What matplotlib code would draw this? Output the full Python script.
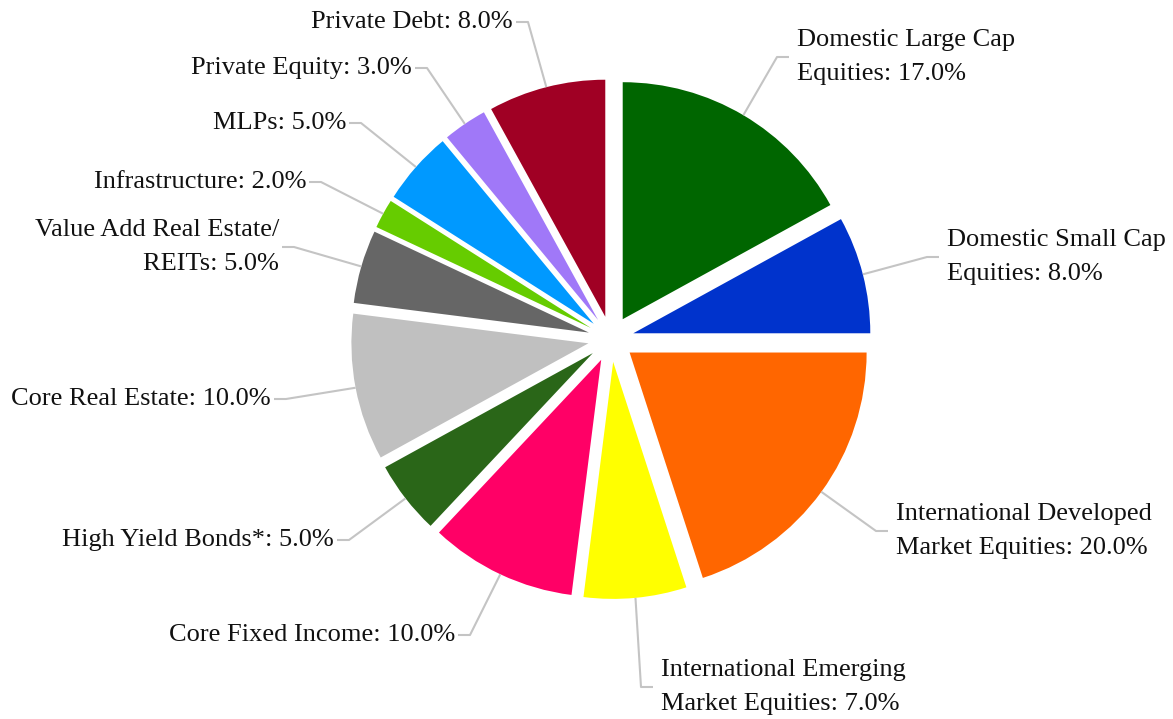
import numpy as np
import matplotlib

matplotlib.use("Agg")
import matplotlib.pyplot as plt

# Asset allocation data
labels = [
    "Domestic Large Cap\nEquities",
    "Domestic Small Cap\nEquities",
    "International Developed\nMarket Equities",
    "International Emerging\nMarket Equities",
    "Core Fixed Income",
    "High Yield Bonds*",
    "Core Real Estate",
    "Value Add Real Estate/\nREITs",
    "Infrastructure",
    "MLPs",
    "Private Equity",
    "Private Debt",
]
weights = [17.0, 8.0, 20.0, 7.0, 10.0, 5.0, 10.0, 5.0, 2.0, 5.0, 3.0, 8.0]
colors = [
    "#006600", "#0033CC", "#FF6600", "#FFFF00", "#FF0066", "#2A6618",
    "#C0C0C0", "#666666", "#66CC00", "#0099FF", "#A078F8", "#A00024",
]

# label elbow points (pixel coords, y measured from top)
elbows = [
    (777, 57), (927, 257), (876, 531), (641, 687), (470, 635), (349, 540),
    (286, 399), (294, 247), (321, 182), (361, 123), (427, 68), (528, 22),
]

W, H = 1173, 719
cx, cy, R = 611, H - 339, 237
gap = 23  # explode distance in pixels

fig = plt.figure(figsize=(W / 100, H / 100), dpi=100)
ax = fig.add_axes([0, 0, 1, 1])

wedges, _ = ax.pie(
    weights,
    colors=colors,
    explode=[gap] * len(weights),
    startangle=90,
    counterclock=False,
    center=(cx, cy),
    radius=R,
    wedgeprops=dict(linewidth=0),
)

ax.set_xlim(0, W)
ax.set_ylim(0, H)
ax.set_aspect("equal")
ax.axis("off")

line_color = "#C4C4C4"
for w, lab, val, (ex, ey) in zip(wedges, labels, weights, elbows):
    mid = np.deg2rad((w.theta1 + w.theta2) / 2)
    wx, wy = w.center
    px = wx + R * np.cos(mid)
    py = wy + R * np.sin(mid)
    ey = H - ey
    right = ex > cx
    arm = 12 if right else -12
    ax.plot([px, ex, ex + arm], [py, ey, ey], color=line_color, lw=1.5,
            solid_capstyle="butt", zorder=1)
    tx = ex + arm + (8 if right else -3)
    ax.text(tx, ey, f"{lab}: {val:.1f}%", ha="left" if right else "right",
            va="center", fontsize=19, family="Liberation Serif",
            color="#111111", linespacing=1.65,
            multialignment="left" if right else "right")

fig.savefig("out.png", dpi=100)
